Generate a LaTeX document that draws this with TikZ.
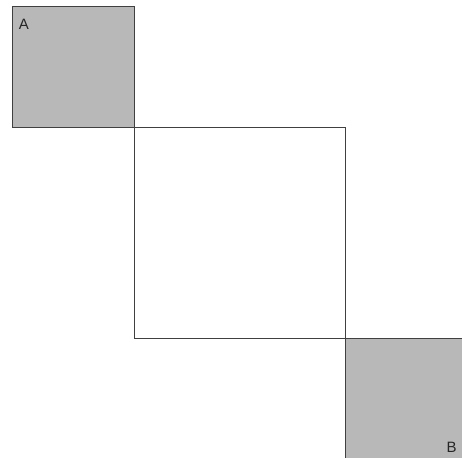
\documentclass[tikz,border=0pt]{standalone}
\usepackage{fontspec}
\setmainfont{Liberation Sans}
\begin{document}
\begin{tikzpicture}[x=1pt,y=-1pt,
  sq/.style={draw=black!75, line width=1pt, inner sep=0pt, outer sep=0pt},
  shaded/.style={sq, fill=black!28},
  lbl/.style={font=\fontsize{15}{17}\selectfont, text=black!85, inner sep=0pt}]
\useasboundingbox (0,0) rectangle (462,457);
\node[shaded, minimum width=122pt, minimum height=121pt, anchor=north west] (A) at (12,7) {};
\node[sq, minimum width=211pt, minimum height=210pt, anchor=north west] (M) at (134,128) {};
\node[shaded, minimum width=125pt, minimum height=125pt, anchor=north west] (B) at (345,338) {};
\node[lbl] (la) at (24,24) {A};
\node[lbl] (lb) at (451.5,447) {B};
\end{tikzpicture}
\end{document}
